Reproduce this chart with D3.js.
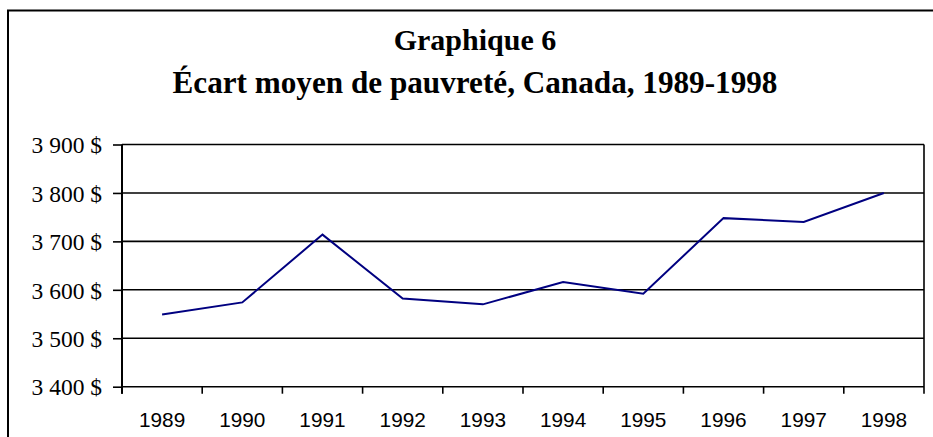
<!DOCTYPE html>
<html>
<head>
<meta charset="utf-8">
<script src="https://cdn.jsdelivr.net/npm/d3@7"></script>
<style>
  body { margin: 0; background: #fff; }
  svg { display: block; }
</style>
</head>
<body>
<svg id="chart" width="933" height="437"></svg>
<script>
// data
const years = ["1989", "1990", "1991", "1992", "1993", "1994", "1995", "1996", "1997", "1998"];
const ecart = [3549, 3574, 3714, 3582, 3570, 3616, 3592, 3748, 3740, 3800];
const yTicks = [3400, 3500, 3600, 3700, 3800, 3900];
const titleLines = ["Graphique 6", "Écart moyen de pauvreté, Canada, 1989-1998"];

const width = 933, height = 437;
const margin = {top: 144.5, right: 9, bottom: 50.3, left: 122};

const svg = d3.select("#chart");

// outer frame (runs off the right and bottom edges)
svg.append("rect")
    .attr("x", 8)
    .attr("y", 10.5)
    .attr("width", 940)
    .attr("height", 440)
    .attr("fill", "none")
    .attr("stroke", "#000")
    .attr("stroke-width", 2);

svg.append("g")
  .selectAll("text")
  .data(titleLines)
  .join("text")
    .attr("x", 475)
    .attr("y", (d, i) => i === 0 ? 50 : 93)
    .attr("text-anchor", "middle")
    .attr("font-family", "'Liberation Serif', 'Times New Roman', serif")
    .attr("font-weight", "bold")
    .attr("font-size", (d, i) => i === 0 ? 30 : 31.2)
    .text(d => d);

const x = d3.scaleBand()
    .domain(years)
    .range([margin.left, width - margin.right]);

const y = d3.scaleLinear()
    .domain([3400, 3900])
    .range([height - margin.bottom, margin.top]);

const fmt = v => d3.format(",")(v).replace(",", " ") + " $";

// y axis with gridlines
const yAxis = svg.append("g")
    .attr("transform", `translate(${margin.left},0)`)
    .call(d3.axisLeft(y).tickValues(yTicks).tickSize(9).tickPadding(11).tickFormat(fmt));
yAxis.select(".domain").remove();
yAxis.selectAll(".tick line")
    .attr("stroke", "#000")
    .attr("stroke-width", 1.6);
yAxis.selectAll(".tick text")
    .attr("font-family", "'Liberation Serif', 'Times New Roman', serif")
    .attr("font-size", 23.5)
    .attr("fill", "#000")
    .attr("dy", "0.35em");

svg.append("g")
  .selectAll("line")
  .data(yTicks)
  .join("line")
    .attr("x1", margin.left)
    .attr("x2", width - margin.right)
    .attr("y1", d => y(d))
    .attr("y2", d => y(d))
    .attr("stroke", "#000")
    .attr("stroke-width", 1.6);

// plot frame sides
svg.append("line")
    .attr("x1", margin.left).attr("x2", margin.left)
    .attr("y1", y(3900)).attr("y2", y(3400) + 7)
    .attr("stroke", "#000").attr("stroke-width", 2);
svg.append("line")
    .attr("x1", width - margin.right).attr("x2", width - margin.right)
    .attr("y1", y(3900)).attr("y2", y(3400) + 7)
    .attr("stroke", "#000").attr("stroke-width", 1.6);

// x axis: ticks between categories, labels centred
const xAxis = svg.append("g")
    .attr("transform", `translate(0,${y(3400)})`);
xAxis.selectAll("line")
  .data(years)
  .join("line")
    .attr("x1", d => x(d))
    .attr("x2", d => x(d))
    .attr("y1", 0)
    .attr("y2", 7)
    .attr("stroke", "#000")
    .attr("stroke-width", 1.6);
xAxis.selectAll("text")
  .data(years)
  .join("text")
    .attr("x", d => x(d) + x.bandwidth() / 2)
    .attr("y", 40)
    .attr("text-anchor", "middle")
    .attr("font-family", "'Liberation Sans', Arial, sans-serif")
    .attr("font-size", 20.8)
    .attr("fill", "#000")
    .text(d => d);

const line = d3.line()
    .x((d, i) => x(years[i]) + x.bandwidth() / 2)
    .y(d => y(d));

svg.append("path")
    .datum(ecart)
    .attr("fill", "none")
    .attr("stroke", "#000080")
    .attr("stroke-width", 2)
    .attr("stroke-linejoin", "miter")
    .attr("d", line);
</script>
</body>
</html>
